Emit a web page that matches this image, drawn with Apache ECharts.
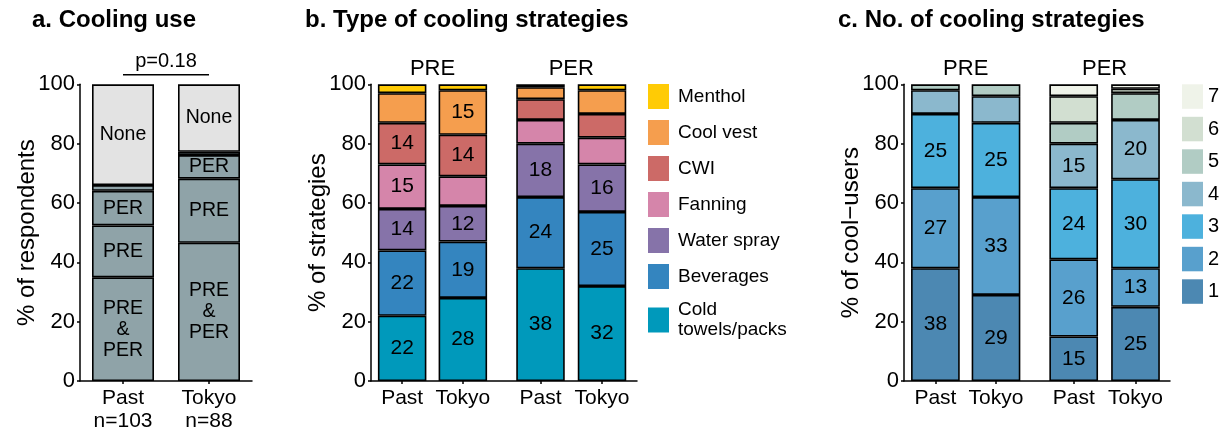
<!DOCTYPE html>
<html>
<head>
<meta charset="utf-8">
<script src="https://cdn.jsdelivr.net/npm/echarts@6/dist/echarts.min.js"></script>
<style>
  html, body { margin: 0; padding: 0; background: #fff; }
  #chart { width: 1224px; height: 432px; }
</style>
</head>
<body>
<div id="chart"></div>
<script>
// ---- data ----
const groups = ['Past', 'Tokyo'];
const sampleSizes = ['n=103', 'n=88'];
const phases = ['PRE', 'PER'];

// a. Cooling use (% of respondents), stacked bottom to top
const useNames = ['PRE & PER', 'PRE', 'PER', 'Other', 'None'];
const useText = ['PRE\n&\nPER', 'PRE', 'PER', '', 'None'];
const usePast = [34.95, 17.48, 11.65, 1.94, 33.98];
const useTokyo = [46.59, 21.59, 7.95, 1.14, 22.73];

// b. Type of cooling strategies (% of strategies), stacked bottom to top
const strategyNames = ['Cold towels/packs', 'Beverages', 'Water spray', 'Fanning', 'CWI', 'Cool vest', 'Menthol'];
const typePrePast = [22, 22, 14, 15, 14, 10, 3];
const typePreTokyo = [28, 19, 12, 10, 14, 15, 2];
const typePerPast = [38, 24, 18, 8, 7, 4, 1];
const typePerTokyo = [32, 25, 16, 9, 8, 8, 2];

// c. No. of cooling strategies (% of cool-users), stacked bottom to top
const countNames = ['1', '2', '3', '4', '5', '6', '7'];
const countPrePast = [38, 27, 25, 8, 2, null, null];
const countPreTokyo = [29, 33, 25, 9, 4, null, null];
const countPerPast = [15, 26, 24, 15, 7, 9, 4];
const countPerTokyo = [25, 13, 30, 20, 9, 1.5, 1.5];

// ---- styling ----
const FONT = '"Liberation Sans", Arial, Helvetica, sans-serif';
const useColors = ['#8fa3a8', '#8fa3a8', '#8fa3a8', '#8fa3a8', '#e3e3e3'];
const strategyColors = ['#0099bb', '#3485bf', '#8673a9', '#d585aa', '#cc6a67', '#f59e4e', '#ffcb05'];
const countColors = ['#4c88b2', '#58a0cd', '#4db1dd', '#8bb8cd', '#b1ccc4', '#d2dfd1', '#eff3e9'];
const LABEL_MIN = 12;

const TOP = 84.3, H = 296.7;
const gridBoxes = [
  { left: 80, width: 172 },       // a
  { left: 371, width: 266 },      // b frame
  { left: 371.8, width: 121.4 },  // b PRE
  { left: 509.75, width: 123 },   // b PER
  { left: 904, width: 266 },      // c frame
  { left: 905.1, width: 121.2 },  // c PRE
  { left: 1042.8, width: 123.6 }  // c PER
];

const axisLineStyle = { color: '#000', width: 1.5 };

function categoryX(gridIndex, withLine, twoLine) {
  return {
    type: 'category', gridIndex, data: groups,
    axisLine: { show: withLine, lineStyle: axisLineStyle },
    axisTick: { show: true, alignWithLabel: true, interval: 0, length: 3, lineStyle: axisLineStyle },
    axisLabel: {
      interval: 0, hideOverlap: false,
      color: '#000', fontSize: 21, fontFamily: FONT, margin: 6, lineHeight: 23,
      formatter: twoLine ? (v, i) => v + '\n' + sampleSizes[i] : (v) => v
    }
  };
}
function frameX(gridIndex) {
  return {
    type: 'value', gridIndex, min: 0, max: 1,
    axisLine: { show: true, lineStyle: axisLineStyle },
    axisTick: { show: false }, axisLabel: { show: false }, splitLine: { show: false }
  };
}
function shownY(gridIndex, name) {
  return {
    type: 'value', gridIndex, min: 0, max: 100, interval: 20,
    axisLine: { show: true, lineStyle: axisLineStyle },
    axisTick: { show: true, length: 3, lineStyle: axisLineStyle },
    axisLabel: { color: '#000', fontSize: 22, fontFamily: FONT, margin: 5 },
    splitLine: { show: false },
    name, nameLocation: 'middle', nameGap: 41, nameMoveOverlap: false,
    nameTextStyle: { color: '#000', fontSize: 24, fontFamily: FONT }
  };
}
function hiddenY(gridIndex) {
  return { type: 'value', gridIndex, min: 0, max: 100, show: false, splitLine: { show: false } };
}

function stackedSeries(names, colors, pastVals, tokyoVals, axisIndex, stackId, barWidth, labelFn) {
  return names.map((name, i) => ({
    type: 'bar', name, stack: stackId,
    xAxisIndex: axisIndex, yAxisIndex: axisIndex,
    barWidth,
    data: [pastVals[i], tokyoVals[i]],
    itemStyle: { color: colors[i], borderColor: '#000', borderWidth: 1.6 },
    label: {
      show: true, position: 'inside', color: '#000', fontFamily: FONT,
      fontSize: 21, lineHeight: 21,
      formatter: (p) => labelFn(p, i)
    },
    emphasis: { disabled: true }
  }));
}

const numLabel = (p) => (p.value != null && p.value >= LABEL_MIN ? String(p.value) : '');
const useLabel = (p, i) => useText[i];

const series = [].concat(
  stackedSeries(useNames, useColors, usePast, useTokyo, 0, 'use', 62, useLabel)
    .map(s => { s.label.fontSize = 19.5; return s; }),
  stackedSeries(strategyNames, strategyColors, typePrePast, typePreTokyo, 2, 'typePre', 48.5, numLabel),
  stackedSeries(strategyNames, strategyColors, typePerPast, typePerTokyo, 3, 'typePer', 48.5, numLabel),
  stackedSeries(countNames, countColors, countPrePast, countPreTokyo, 5, 'cntPre', 48.7, numLabel),
  stackedSeries(countNames, countColors, countPerPast, countPerTokyo, 6, 'cntPer', 48.7, numLabel)
);

const chart = echarts.init(document.getElementById('chart'), null, { renderer: 'canvas' });

chart.setOption({
  animation: false,
  backgroundColor: '#fff',
  textStyle: { fontFamily: FONT },
  title: [
    { text: 'a. Cooling use', left: 32, top: 8 },
    { text: 'b. Type of cooling strategies', left: 305, top: 8 },
    { text: 'c. No. of cooling strategies', left: 838, top: 8 }
  ].map(t => Object.assign(t, {
    padding: 0,
    textStyle: { fontSize: 24, fontWeight: 'bold', color: '#000', fontFamily: FONT }
  })),
  grid: gridBoxes.map(g => ({
    left: g.left, width: g.width, top: TOP, height: H,
    containLabel: false, outerBoundsMode: 'none'
  })),
  xAxis: [
    categoryX(0, true, true),
    frameX(1), categoryX(2, false, false), categoryX(3, false, false),
    frameX(4), categoryX(5, false, false), categoryX(6, false, false)
  ],
  yAxis: [
    shownY(0, '% of respondents'),
    shownY(1, '% of strategies'), hiddenY(2), hiddenY(3),
    shownY(4, '% of cool\u2212users'), hiddenY(5), hiddenY(6)
  ],
  legend: [
    {
      orient: 'vertical', left: 648, top: 84, padding: 0,
      itemWidth: 21, itemHeight: 25, itemGap: 11,
      icon: 'rect', selectedMode: false,
      data: strategyNames.slice().reverse(),
      formatter: (n) => n.replace(' towels', '\ntowels'),
      itemStyle: { borderWidth: 0 },
      textStyle: { color: '#000', fontSize: 19, lineHeight: 20, fontFamily: FONT, padding: [0, 0, 0, 4] }
    },
    {
      orient: 'vertical', left: 1182, top: 84.3, padding: 0,
      itemWidth: 21, itemHeight: 24.5, itemGap: 8,
      icon: 'rect', selectedMode: false,
      data: countNames.slice().reverse(),
      itemStyle: { borderWidth: 0 },
      textStyle: { color: '#000', fontSize: 20, fontFamily: FONT }
    }
  ],
  series
});

// Significance bracket over panel a and phase headers over panels b and c
const a0 = chart.convertToPixel({ gridIndex: 0 }, [0, 103.2]);
const a1 = chart.convertToPixel({ gridIndex: 0 }, [1, 103.2]);
const graphics = [
  { type: 'line', shape: { x1: a0[0], y1: a0[1], x2: a1[0], y2: a1[1] },
    style: { stroke: '#000', lineWidth: 1.5 } },
  { type: 'text', x: (a0[0] + a1[0]) / 2, y: a0[1] - 13.5,
    style: { text: 'p=0.18', align: 'center', verticalAlign: 'middle', font: '20px ' + FONT, fill: '#000' } }
];
[[2, phases[0]], [3, phases[1]], [5, phases[0]], [6, phases[1]]].forEach(([gi, label]) => {
  const p0 = chart.convertToPixel({ gridIndex: gi }, [0, 100]);
  const p1 = chart.convertToPixel({ gridIndex: gi }, [1, 100]);
  graphics.push({
    type: 'text', x: (p0[0] + p1[0]) / 2, y: p0[1] - 15,
    style: { text: label, align: 'center', verticalAlign: 'middle', font: '22px ' + FONT, fill: '#000' }
  });
});
chart.setOption({ graphic: graphics });
</script>
</body>
</html>
